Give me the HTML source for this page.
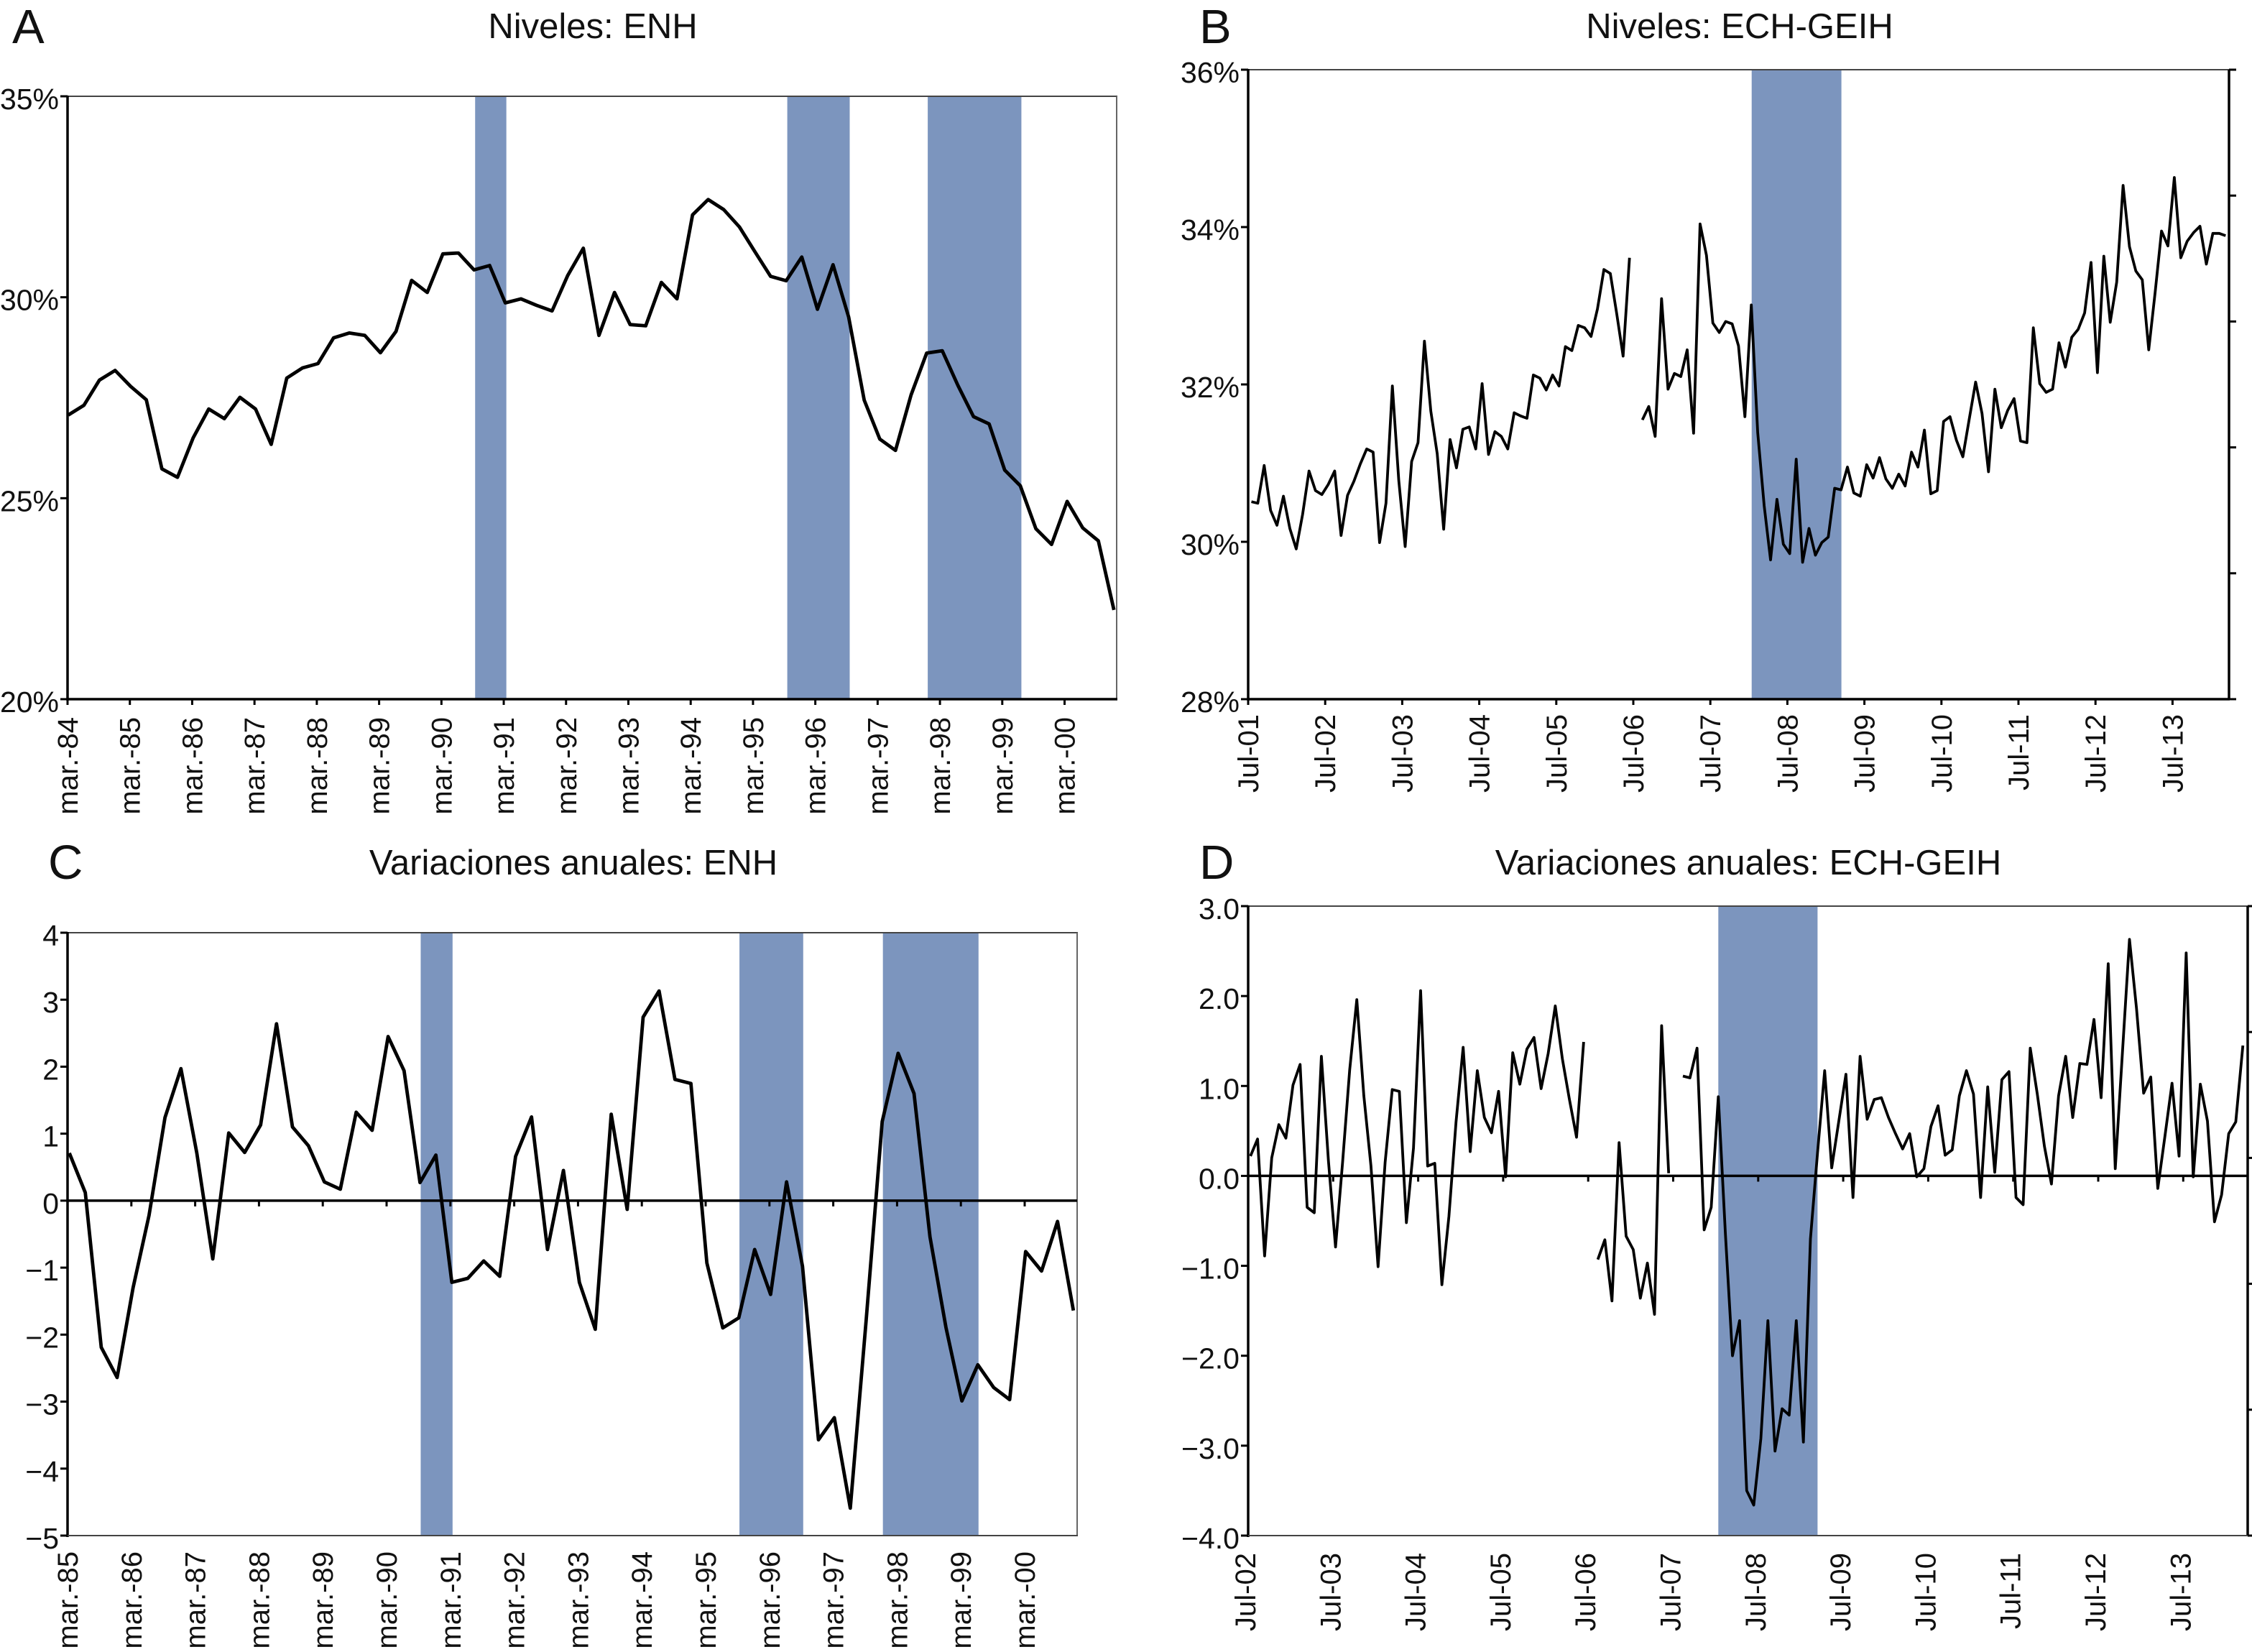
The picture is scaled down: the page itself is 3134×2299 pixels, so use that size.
<!DOCTYPE html>
<html lang="es">
<head>
<meta charset="utf-8">
<title>Niveles y variaciones anuales: ENH y ECH-GEIH</title>
<style>
html,body{margin:0;padding:0;background:#fff;width:3134px;height:2299px;overflow:hidden}
svg{display:block}
text{font-family:"Liberation Sans",Arial,sans-serif;fill:#111}
.title{font-size:49px;text-anchor:middle}
.letter{font-size:67px}
.ytick{font-size:41px;text-anchor:end}
.xtick{font-size:40px;text-anchor:end}
</style>
</head>
<body>
<svg id="chart" xmlns="http://www.w3.org/2000/svg" width="3134" height="2299" viewBox="0 0 3134 2299">
  <rect x="0" y="0" width="3134" height="2299" fill="#fff"/>
  <text class="letter" x="17" y="60">A</text>
  <text class="title" x="825" y="53">Niveles: ENH</text>
  <text class="letter" x="1669" y="60">B</text>
  <text class="title" x="2421" y="53">Niveles: ECH-GEIH</text>
  <text class="letter" x="67" y="1223">C</text>
  <text class="title" x="798" y="1217">Variaciones anuales: ENH</text>
  <text class="letter" x="1669" y="1223">D</text>
  <text class="title" x="2433" y="1217">Variaciones anuales: ECH-GEIH</text>
</svg>
<script>
// Panel A data
const enhLevels = [27.07,27.31,27.94,28.18,27.78,27.45,25.73,25.52,26.50,27.22,26.98,27.51,27.22,26.34,27.99,28.24,28.35,28.99,29.11,29.05,28.62,29.15,30.42,30.12,31.08,31.10,30.68,30.79,29.86,29.96,29.80,29.66,30.54,31.22,29.05,30.12,29.32,29.29,30.37,29.96,32.05,32.43,32.18,31.75,31.13,30.52,30.41,31.00,29.70,30.81,29.51,27.44,26.47,26.19,27.57,28.61,28.67,27.81,27.03,26.85,25.70,25.31,24.24,23.85,24.92,24.26,23.94,22.22];
const enhLevelTicks = ["mar.-84","mar.-85","mar.-86","mar.-87","mar.-88","mar.-89","mar.-90","mar.-91","mar.-92","mar.-93","mar.-94","mar.-95","mar.-96","mar.-97","mar.-98","mar.-99","mar.-00"];
const enhLevelYValues = [20,25,30,35];
const enhLevelYLabels = ["20%","25%","30%","35%"];
const enhLevelBandStarts = [26,46,55];
const enhLevelBandEnds = [28,50,61];

// Panel B data
const echLevels = [30.51,30.49,30.97,30.40,30.21,30.58,30.17,29.91,30.35,30.90,30.65,30.60,30.73,30.90,30.08,30.59,30.77,30.99,31.18,31.14,29.99,30.49,31.98,30.78,29.94,31.02,31.26,32.55,31.66,31.12,30.16,31.30,30.94,31.43,31.46,31.18,32.01,31.11,31.40,31.34,31.18,31.64,31.60,31.57,32.12,32.08,31.93,32.12,31.98,32.48,32.43,32.75,32.72,32.61,32.96,33.46,33.41,32.90,32.36,33.61,null,31.55,31.72,31.34,33.09,31.94,32.14,32.10,32.44,31.38,34.04,33.64,32.78,32.66,32.80,32.77,32.49,31.59,33.01,31.39,30.46,29.77,30.54,29.97,29.85,31.05,29.74,30.17,29.83,29.99,30.06,30.68,30.66,30.95,30.62,30.58,30.98,30.81,31.07,30.80,30.68,30.86,30.71,31.14,30.95,31.42,30.61,30.65,31.53,31.59,31.29,31.08,31.56,32.03,31.63,30.89,31.94,31.45,31.67,31.82,31.28,31.26,32.72,32.01,31.90,31.94,32.53,32.22,32.60,32.70,32.91,33.55,32.15,33.63,32.79,33.30,34.53,33.75,33.44,33.33,32.44,33.17,33.95,33.76,34.63,33.61,33.82,33.93,34.01,33.53,33.92,33.92,33.89];
const echLevelTicks = ["Jul-01","Jul-02","Jul-03","Jul-04","Jul-05","Jul-06","Jul-07","Jul-08","Jul-09","Jul-10","Jul-11","Jul-12","Jul-13"];
const echLevelYValues = [28,30,32,34,36];
const echLevelYLabels = ["28%","30%","32%","34%","36%"];
const echLevelBandStarts = [78];
const echLevelBandEnds = [92];

// Panel C data
const enhChanges = [0.71,0.12,-2.19,-2.64,-1.30,-0.22,1.24,1.97,0.71,-0.87,1.01,0.72,1.13,2.64,1.10,0.82,0.28,0.17,1.32,1.05,2.45,1.94,0.27,0.68,-1.22,-1.16,-0.90,-1.13,0.66,1.25,-0.73,0.45,-1.22,-1.92,1.29,-0.13,2.74,3.13,1.81,1.75,-0.93,-1.90,-1.75,-0.73,-1.40,0.28,-0.98,-3.57,-3.24,-4.59,-1.77,1.18,2.20,1.60,-0.54,-1.89,-2.99,-2.45,-2.79,-2.97,-0.76,-1.05,-0.31,-1.64];
const enhChangeTicks = ["mar.-85","mar.-86","mar.-87","mar.-88","mar.-89","mar.-90","mar.-91","mar.-92","mar.-93","mar.-94","mar.-95","mar.-96","mar.-97","mar.-98","mar.-99","mar.-00"];
const enhChangeYValues = [-5,-4,-3,-2,-1,0,1,2,3,4];
const enhChangeYLabels = ["−5","−4","−3","−2","−1","0","1","2","3","4"];
const enhChangeBandStarts = [22,42,51];
const enhChangeBandEnds = [24,46,57];

// Panel D data
const echChanges = [0.22,0.41,-0.89,0.20,0.57,0.42,1.01,1.24,-0.35,-0.41,1.33,0.17,-0.79,0.15,1.18,1.96,0.89,0.11,-1.01,0.15,0.96,0.94,-0.52,0.31,2.06,0.11,0.14,-1.21,-0.45,0.60,1.43,0.27,1.17,0.65,0.48,0.94,-0.01,1.37,1.02,1.41,1.54,0.97,1.36,1.89,1.30,0.85,0.43,1.49,null,-0.93,-0.71,-1.39,0.37,-0.67,-0.82,-1.36,-0.97,-1.54,1.67,0.03,null,1.11,1.09,1.42,-0.60,-0.35,0.88,-0.65,-2.00,-1.61,-3.50,-3.66,-2.92,-1.61,-3.06,-2.59,-2.66,-1.61,-2.96,-0.70,0.26,1.17,0.09,0.61,1.13,-0.24,1.33,0.63,0.85,0.87,0.65,0.47,0.30,0.47,-0.01,0.08,0.55,0.78,0.23,0.29,0.89,1.17,0.91,-0.24,0.99,0.04,1.07,1.16,-0.24,-0.32,1.42,0.91,0.33,-0.09,0.89,1.33,0.65,1.25,1.24,1.74,0.87,2.36,0.08,1.36,2.63,1.86,0.92,1.10,-0.14,0.44,1.03,0.22,2.48,-0.01,1.02,0.61,-0.51,-0.21,0.47,0.60,1.45];
const echChangeTicks = ["Jul-02","Jul-03","Jul-04","Jul-05","Jul-06","Jul-07","Jul-08","Jul-09","Jul-10","Jul-11","Jul-12","Jul-13"];
const echChangeYValues = [-4,-3,-2,-1,0,1,2,3];
const echChangeYLabels = ["−4.0","−3.0","−2.0","−1.0","0.0","1.0","2.0","3.0"];
const echChangeBandStarts = [66];
const echChangeBandEnds = [80];

const NS = "http://www.w3.org/2000/svg";
const chart = document.getElementById("chart");
const BAND_COLOR = "#7c95be";
const INK = "#000";
const THIN = "#444";

function node(parent, tag, attrs, txt) {
  const n = document.createElementNS(NS, tag);
  for (const k in attrs) n.setAttribute(k, attrs[k]);
  if (txt !== undefined) n.textContent = txt;
  parent.appendChild(n);
  return n;
}

function line(parent, x1, y1, x2, y2, color, w, name) {
  const l = node(parent, "line", {x1: x1, y1: y1, x2: x2, y2: y2, stroke: color, "stroke-width": w});
  
  
  return l;
}

function drawPanel(c) {
  const g = node(chart, "g", {});
  
  

  const xScale = i => c.left + c.pad + i * c.step;
  const yScale = v => c.bottom - (v - c.yMin) / (c.yMax - c.yMin) * (c.bottom - c.top);

  c.bandStarts.forEach((s, k) => {
    const x0 = xScale(s) + c.bandDx;
    const x1 = xScale(c.bandEnds[k]) + c.bandDx;
    const r = node(g, "rect", {x: x0, y: c.top, width: x1 - x0, height: c.bottom - c.top, fill: BAND_COLOR});
    
    
  });

  line(g, c.left - 1, c.top, c.right + 1, c.top, THIN, 2, 'top-spine');
  line(g, c.right, c.top, c.right, c.bottom, c.rightTicks ? INK : "#666", c.rightTicks ? 3.5 : 2, 'right-spine');
  line(g, c.left, c.top - 1, c.left, c.bottom + 2, INK, 3.5, 'left-spine');
  line(g, c.left - 1, c.bottom, c.right + 1, c.bottom, c.zeroAxis ? THIN : INK, c.zeroAxis ? 2 : 3.5, 'bottom-spine');

  c.yValues.forEach((v, k) => {
    const y = yScale(v);
    line(g, c.left - 10, y, c.left, y, INK, 3, 'y-tick');
    const t = node(g, "text", {class: "ytick", x: c.left - 12, y: y + 18}, c.yLabels[k]);
    
    
  });

  if (c.rightTicks) {
    for (let k = 0; k <= c.rightTicks; k++) {
      const y = c.top + k * (c.bottom - c.top) / c.rightTicks;
      line(g, c.right, y, c.right + 10, y, INK, 3, 'right-tick');
    }
  }

  const axisY = c.zeroAxis ? yScale(0) : c.bottom;
  c.xLabels.forEach((lab, k) => {
    const x = c.left + k * c.tickSpacing;
    line(g, x, axisY, x, axisY + 8, INK, 3, 'x-tick');
    const tx = x + c.labelDx;
    const t = node(g, "text", {class: "xtick", x: tx, y: c.labelY, transform: "rotate(-90 " + tx + " " + c.labelY + ")"}, lab);
    
    
  });

  if (c.zeroAxis) {
    line(g, c.left, axisY, c.right, axisY, INK, c.zeroWidth, 'zero-line');
  }

  let segs = [], cur = [];
  c.series.forEach((v, i) => {
    if (v === null) {
      if (cur.length) segs.push(cur);
      cur = [];
    } else {
      cur.push(xScale(i).toFixed(1) + "," + yScale(v).toFixed(1));
    }
  });
  if (cur.length) segs.push(cur);
  segs.forEach(pts => {
    const p = node(g, "polyline", {points: pts.join(" "), fill: "none", stroke: "#000", "stroke-width": c.lineWidth, "stroke-linejoin": "round"});
    
    
  });
}

drawPanel({name: "panel-a-niveles-enh", left: 94, right: 1554, top: 134, bottom: 973, pad: 1, step: 21.72, tickSpacing: 86.72,
  yMin: 20, yMax: 35, series: enhLevels, xLabels: enhLevelTicks, yValues: enhLevelYValues, yLabels: enhLevelYLabels,
  bandStarts: enhLevelBandStarts, bandEnds: enhLevelBandEnds, bandDx: 1.5, labelDx: 14, labelY: 998, lineWidth: 4.8});

drawPanel({name: "panel-b-niveles-ech-geih", left: 1737, right: 3102, top: 97, bottom: 973, pad: 4.46, step: 8.92, tickSpacing: 107.2,
  yMin: 28, yMax: 36, series: echLevels, xLabels: echLevelTicks, yValues: echLevelYValues, yLabels: echLevelYLabels,
  bandStarts: echLevelBandStarts, bandEnds: echLevelBandEnds, bandDx: 0.5, labelDx: 14, labelY: 994, lineWidth: 3.8, rightTicks: 5});

drawPanel({name: "panel-c-variaciones-enh", left: 94, right: 1499, top: 1298, bottom: 2137, pad: 2.5, step: 22.18, tickSpacing: 88.8,
  yMin: -5, yMax: 4, series: enhChanges, xLabels: enhChangeTicks, yValues: enhChangeYValues, yLabels: enhChangeYLabels,
  bandStarts: enhChangeBandStarts, bandEnds: enhChangeBandEnds, bandDx: 1, labelDx: 14, labelY: 2159, lineWidth: 4.8, zeroAxis: true, zeroWidth: 3.5});

drawPanel({name: "panel-d-variaciones-ech-geih", left: 1737, right: 3128, top: 1261, bottom: 2137, pad: 3.2, step: 9.865, tickSpacing: 118.3,
  yMin: -4, yMax: 3, series: echChanges, xLabels: echChangeTicks, yValues: echChangeYValues, yLabels: echChangeYLabels,
  bandStarts: echChangeBandStarts, bandEnds: echChangeBandEnds, bandDx: 0, labelDx: 10, labelY: 2161, lineWidth: 3.8, rightTicks: 5, zeroAxis: true, zeroWidth: 3.5});
</script>
</body>
</html>
